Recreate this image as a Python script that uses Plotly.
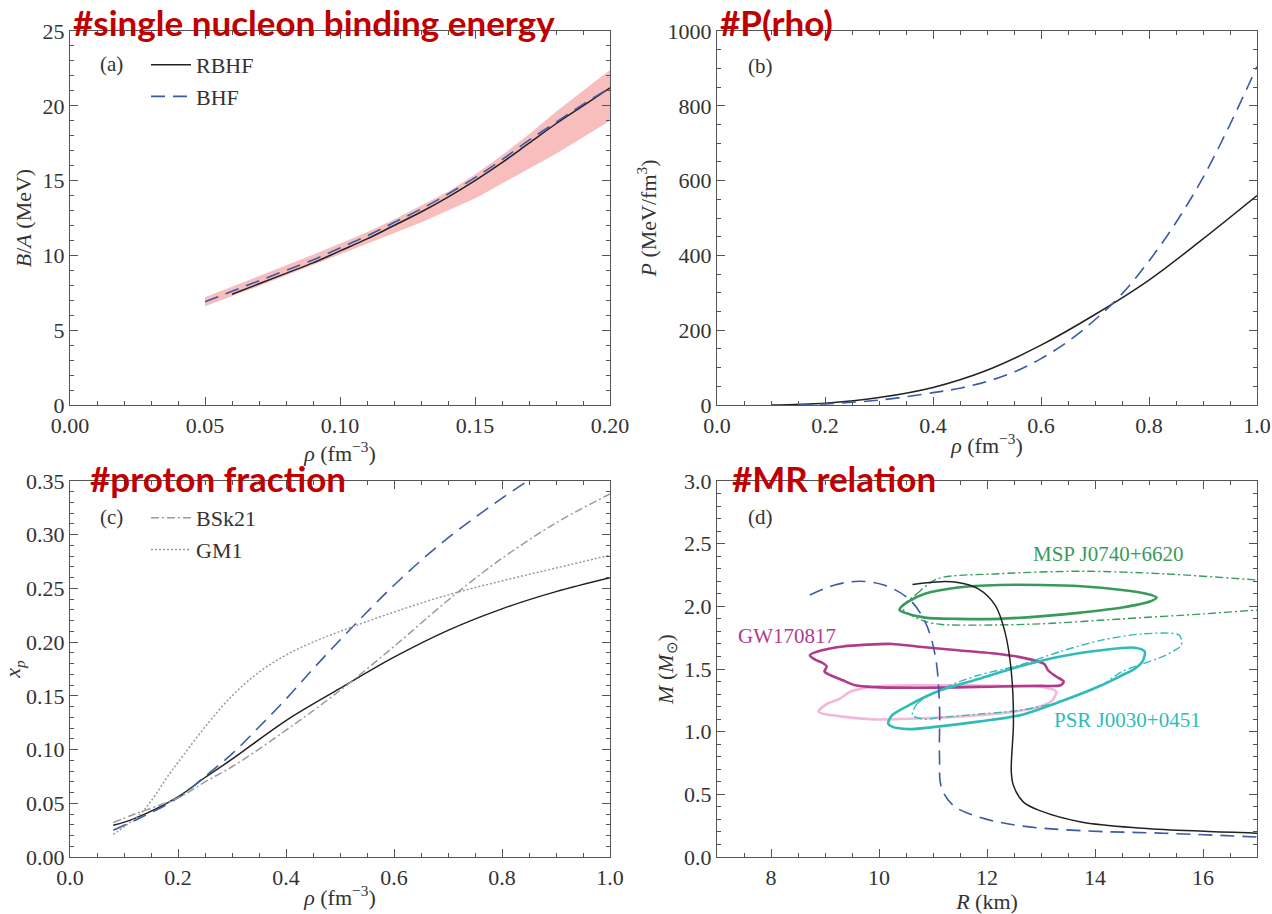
import plotly.graph_objects as go

# ---------------- data ----------------
# (a) binding energy per nucleon
rho_a_rbhf = [0.06, 0.07, 0.08, 0.09, 0.10, 0.11, 0.12, 0.13, 0.14, 0.15, 0.16, 0.17, 0.18, 0.19, 0.20]
ba_rbhf = [7.4, 8.1, 8.8, 9.5, 10.3, 11.1, 12.0, 12.9, 13.9, 15.0, 16.2, 17.5, 18.8, 20.0, 21.2]
rho_a_bhf = [0.05, 0.06, 0.07, 0.08, 0.09, 0.10, 0.11, 0.12, 0.13, 0.14, 0.15, 0.16, 0.17, 0.18, 0.19, 0.20]
ba_bhf = [6.9, 7.6, 8.3, 9.0, 9.7, 10.5, 11.3, 12.2, 13.1, 14.1, 15.2, 16.4, 17.7, 18.9, 20.1, 21.2]
rho_band = [0.05, 0.06, 0.07, 0.08, 0.09, 0.10, 0.11, 0.12, 0.13, 0.14, 0.15, 0.16, 0.17, 0.18, 0.19, 0.20]
band_low = [6.6, 7.25, 7.95, 8.65, 9.35, 10.05, 10.75, 11.5, 12.2, 13.0, 13.8, 14.8, 15.8, 16.8, 17.9, 19.0]
band_high = [7.2, 7.9, 8.6, 9.3, 10.05, 10.8, 11.55, 12.4, 13.3, 14.25, 15.4, 16.7, 18.1, 19.6, 21.0, 22.4]

# (b) pressure
rho_b = [0.10, 0.20, 0.30, 0.40, 0.50, 0.60, 0.70, 0.80, 0.90, 1.00]
p_rbhf = [0, 5, 20, 47, 93, 160, 242, 334, 444, 560]
rho_b_bhf = [0.15, 0.20, 0.30, 0.40, 0.45, 0.50, 0.55, 0.60, 0.65, 0.70, 0.75, 0.80, 0.85, 0.90, 0.95, 1.00]
p_bhf = [0, 3, 13, 33, 45, 63, 88, 124, 170, 228, 297, 385, 488, 608, 750, 905]

# (c) proton fraction
rho_c = [0.08, 0.12, 0.20, 0.25, 0.30, 0.40, 0.50, 0.60, 0.70, 0.80, 0.90, 1.00]
xp_rbhf = [0.0295, 0.036, 0.056, 0.074, 0.091, 0.127, 0.157, 0.186, 0.211, 0.231, 0.247, 0.260]
rho_c_bhf = [0.08, 0.12, 0.20, 0.25, 0.30, 0.35, 0.40, 0.45, 0.50, 0.55, 0.60, 0.65, 0.70, 0.75, 0.80, 0.85]
xp_bhf = [0.025, 0.034, 0.055, 0.075, 0.096, 0.121, 0.147, 0.175, 0.202, 0.228, 0.253, 0.276, 0.297, 0.316, 0.334, 0.351]
rho_c_bsk = [0.08, 0.12, 0.20, 0.25, 0.30, 0.40, 0.50, 0.60, 0.70, 0.80, 0.90, 1.00]
xp_bsk21 = [0.032, 0.040, 0.055, 0.070, 0.084, 0.118, 0.155, 0.196, 0.239, 0.278, 0.311, 0.338]
rho_c_gm1 = [0.08, 0.10, 0.13, 0.15, 0.185, 0.20, 0.25, 0.30, 0.35, 0.40, 0.45, 0.50, 0.60, 0.70, 0.80, 0.90, 1.00]
xp_gm1 = [0.021, 0.028, 0.040, 0.052, 0.078, 0.088, 0.121, 0.150, 0.172, 0.188, 0.200, 0.210, 0.228, 0.244, 0.257, 0.269, 0.281]

# (d) mass-radius
r_rbhf = [10.62, 11.15, 11.46, 11.84, 12.15, 12.33, 12.45, 12.49, 12.45, 12.49, 12.67, 12.98, 13.74, 14.88, 16.02, 17.0]
m_rbhf = [2.175, 2.197, 2.19, 2.14, 2.01, 1.80, 1.48, 1.08, 0.68, 0.57, 0.44, 0.37, 0.28, 0.23, 0.205, 0.19]
r_bhf = [8.72, 9.18, 9.63, 10.09, 10.55, 10.85, 11.04, 11.12, 11.12, 11.16, 11.38, 11.84, 12.6, 13.74, 15.26, 17.0]
m_bhf = [2.09, 2.17, 2.20, 2.17, 2.06, 1.88, 1.61, 1.21, 0.81, 0.55, 0.41, 0.32, 0.25, 0.21, 0.19, 0.16]

msp_in_r = [10.40, 10.55, 10.85, 11.46, 12.22, 12.98, 13.74, 14.50, 14.95, 15.14, 15.03, 14.50, 13.74, 12.98, 12.22, 11.46, 10.85, 10.47, 10.38, 10.40]
msp_in_m = [1.99, 2.04, 2.10, 2.15, 2.17, 2.17, 2.16, 2.13, 2.10, 2.07, 2.04, 1.99, 1.95, 1.92, 1.90, 1.90, 1.91, 1.95, 1.97, 1.99]
msp_out_r = [10.43, 10.70, 11.08, 12.22, 13.74, 15.26, 17.0, 17.6, 17.6, 17.0, 16.02, 14.50, 12.98, 11.84, 11.16, 10.85, 10.55, 10.43]
msp_out_m = [1.99, 2.10, 2.22, 2.26, 2.28, 2.26, 2.21, 2.19, 1.98, 1.97, 1.94, 1.90, 1.86, 1.85, 1.855, 1.88, 1.94, 1.99]

gw_r = [8.72, 8.95, 9.33, 10.24, 10.70, 11.46, 12.22, 12.67, 13.06, 13.13, 13.28, 13.42, 13.36, 12.98, 12.22, 10.70, 9.94, 9.56, 9.33, 9.10, 8.99, 9.03, 8.95, 8.84, 8.72]
gw_m = [1.61, 1.65, 1.68, 1.70, 1.68, 1.65, 1.62, 1.59, 1.54, 1.49, 1.44, 1.40, 1.37, 1.365, 1.36, 1.35, 1.355, 1.37, 1.41, 1.45, 1.48, 1.52, 1.55, 1.57, 1.61]
gw2_r = [8.88, 9.03, 9.26, 9.48, 9.94, 10.70, 11.46, 12.22, 12.98, 13.28, 13.21, 12.90, 12.22, 11.46, 10.70, 9.94, 9.33, 8.99, 8.88]
gw2_m = [1.16, 1.22, 1.26, 1.32, 1.36, 1.37, 1.37, 1.365, 1.36, 1.32, 1.25, 1.19, 1.145, 1.12, 1.105, 1.097, 1.12, 1.14, 1.16]

psr_in_r = [10.17, 10.24, 10.55, 11.08, 11.84, 12.60, 13.36, 14.12, 14.73, 14.92, 14.88, 14.73, 14.50, 14.12, 13.36, 12.60, 11.84, 11.08, 10.55, 10.24, 10.17]
psr_in_m = [1.065, 1.13, 1.21, 1.32, 1.42, 1.52, 1.60, 1.65, 1.67, 1.64, 1.56, 1.50, 1.45, 1.37, 1.24, 1.13, 1.08, 1.04, 1.02, 1.04, 1.065]
psr_out_r = [10.62, 10.70, 11.16, 11.84, 12.60, 13.36, 14.12, 14.88, 15.56, 15.60, 15.48, 15.26, 14.88, 14.50, 14.12, 13.36, 12.60, 11.84, 11.08, 10.85, 10.62]
psr_out_m = [1.13, 1.22, 1.34, 1.45, 1.53, 1.64, 1.73, 1.78, 1.77, 1.69, 1.65, 1.60, 1.54, 1.48, 1.37, 1.24, 1.17, 1.14, 1.11, 1.10, 1.13]

# ---------------- styles ----------------
SERIF = "Liberation Serif"
BLACK = "#222222"
BLUE = "#3d5aa6"
GRAY = "#9a9a9a"
GREEN = "#3a9a5c"
CYAN = "#2fbcb8"
MAG = "#b23a8c"
PINK = "#f2b8d9"
RED = "#c00000"
DASH = "14px,8px"
DASHDOT = "8px,3px,2px,3px"

W, H = 1272, 914


def px_x(a, b):
    return [a / W, b / W]


def px_y(top, bottom):
    return [1 - bottom / H, 1 - top / H]


fig = go.Figure()

# (a)
fig.add_trace(go.Scatter(x=rho_band, y=band_low, mode="lines", line=dict(width=0), showlegend=False,
                         hoverinfo="skip", xaxis="x", yaxis="y"))
fig.add_trace(go.Scatter(x=rho_band, y=band_high, mode="lines", line=dict(width=0), fill="tonexty",
                         fillcolor="rgba(244,150,150,0.62)", showlegend=False, hoverinfo="skip",
                         xaxis="x", yaxis="y"))
fig.add_trace(go.Scatter(x=rho_a_rbhf, y=ba_rbhf, mode="lines", name="RBHF", line=dict(color=BLACK, width=1.5),
                         line_shape="spline", xaxis="x", yaxis="y", legend="legend"))
fig.add_trace(go.Scatter(x=rho_a_bhf, y=ba_bhf, mode="lines", name="BHF", line=dict(color=BLUE, width=1.6, dash=DASH),
                         line_shape="spline", xaxis="x", yaxis="y", legend="legend"))

# (b)
fig.add_trace(go.Scatter(x=rho_b, y=p_rbhf, mode="lines", line=dict(color=BLACK, width=1.5), line_shape="spline",
                         showlegend=False, xaxis="x2", yaxis="y2"))
fig.add_trace(go.Scatter(x=rho_b_bhf, y=p_bhf, mode="lines", line=dict(color=BLUE, width=1.6, dash=DASH),
                         line_shape="spline", showlegend=False, xaxis="x2", yaxis="y2"))

# (c)
fig.add_trace(go.Scatter(x=rho_c, y=xp_rbhf, mode="lines", line=dict(color=BLACK, width=1.5), line_shape="spline",
                         showlegend=False, xaxis="x3", yaxis="y3"))
fig.add_trace(go.Scatter(x=rho_c_bhf, y=xp_bhf, mode="lines", line=dict(color=BLUE, width=1.6, dash=DASH),
                         line_shape="spline", showlegend=False, xaxis="x3", yaxis="y3"))
fig.add_trace(go.Scatter(x=rho_c_bsk, y=xp_bsk21, mode="lines", name="BSk21", line=dict(color=GRAY, width=1.5, dash=DASHDOT),
                         line_shape="spline", xaxis="x3", yaxis="y3", legend="legend2"))
fig.add_trace(go.Scatter(x=rho_c_gm1, y=xp_gm1, mode="lines", name="GM1", line=dict(color=GRAY, width=1.5, dash="2px,2px"),
                         line_shape="spline", xaxis="x3", yaxis="y3", legend="legend2"))

# (d) contours
for rr, mm, col, dsh, wd in [
    (msp_out_r, msp_out_m, GREEN, DASHDOT, 1.4),
    (msp_in_r, msp_in_m, GREEN, None, 2.6),
    (gw2_r, gw2_m, PINK, None, 2.6),
    (gw_r, gw_m, MAG, None, 2.6),
    (psr_out_r, psr_out_m, CYAN, DASHDOT, 1.4),
    (psr_in_r, psr_in_m, CYAN, None, 2.6),
]:
    ln = dict(color=col, width=wd)
    if dsh:
        ln["dash"] = dsh
    fig.add_trace(go.Scatter(x=rr, y=mm, mode="lines", line=ln, line_shape="spline",
                             line_smoothing=0.8, showlegend=False, xaxis="x4", yaxis="y4"))
fig.add_trace(go.Scatter(x=r_rbhf, y=m_rbhf, mode="lines", line=dict(color=BLACK, width=1.5), line_shape="spline",
                         showlegend=False, xaxis="x4", yaxis="y4"))
fig.add_trace(go.Scatter(x=r_bhf, y=m_bhf, mode="lines", line=dict(color=BLUE, width=1.6, dash=DASH),
                         line_shape="spline", showlegend=False, xaxis="x4", yaxis="y4"))

# ---------------- axes ----------------
def axis(domain, rng, dtick, minor, title, anchor, fmt=None, standoff=None):
    d = dict(domain=domain, range=rng, dtick=dtick, tick0=rng[0], anchor=anchor, automargin=False,
             showgrid=False, zeroline=False, showline=True, linecolor="#555555", linewidth=1.3,
             mirror="allticks", ticks="inside", ticklen=8, tickwidth=1.2, tickcolor="#555555",
             tickfont=dict(family=SERIF, size=22, color="#333333"),
             minor=dict(dtick=minor, ticks="inside", ticklen=4, tickwidth=1, tickcolor="#555555", showgrid=False),
             title=dict(text=title, font=dict(family=SERIF, size=22, color="#333333")))
    if fmt:
        d["tickformat"] = fmt
    if standoff is not None:
        d["title"]["standoff"] = standoff
    return d


RHO = "<i>ρ</i> (fm<sup>−3</sup>)"
xa = px_x(70, 610)
xb = px_x(717, 1257)
ytop = px_y(31, 405)
ybot = px_y(481, 857)

fig.update_layout(
    xaxis=axis(xa, [0, 0.2], 0.05, 0.01, RHO, "y", ".2f", 1),
    yaxis=axis(ytop, [0, 25], 5, 1, "<i>B</i>/<i>A</i> (MeV)", "x", None, 4),
    xaxis2=axis(xb, [0, 1], 0.2, 0.05, RHO, "y2", ".1f", 1),
    yaxis2=axis(ytop, [0, 1000], 200, 50, "<i>P</i> (MeV/fm<sup>3</sup>)", "x2", None, 4),
    xaxis3=axis(xa, [0, 1], 0.2, 0.05, RHO, "y3", ".1f", 1),
    yaxis3=axis(ybot, [0, 0.35], 0.05, 0.01, "<i>x<sub>p</sub></i>", "x3", ".2f", 4),
    xaxis4=axis(xb, [7, 17], 2, 0.5, "<i>R</i> (km)", "y4", None, 1),
    yaxis4=axis(ybot, [0, 3], 0.5, 0.1, "<i>M</i> (<i>M</i><sub>⊙</sub>)", "x4", ".1f", 4),
)
fig.layout.xaxis4.tick0 = 8

legend_style = dict(font=dict(family=SERIF, size=22, color="#333333"), bgcolor="rgba(0,0,0,0)",
                    xanchor="left", yanchor="top", itemwidth=40, tracegroupgap=0, traceorder="normal")
fig.update_layout(
    legend=dict(x=146 / W, y=1 - 44 / H, **legend_style),
    legend2=dict(x=146 / W, y=1 - 497 / H, **legend_style),
)

# ---------------- annotations ----------------
ann = []
for txt, x, y in [("(a)", 112, 64), ("(b)", 760, 66), ("(c)", 112, 517), ("(d)", 760, 517)]:
    ann.append(dict(text=txt, xref="paper", yref="paper", x=x / W, y=1 - y / H, xanchor="center", yanchor="middle",
                    showarrow=False, font=dict(family=SERIF, size=21, color="#333333")))
for txt, x, y, col in [("MSP J0740+6620", 14.25, 2.42, GREEN), ("GW170817", 8.3, 1.76, MAG),
                       ("PSR J0030+0451", 14.6, 1.09, CYAN)]:
    ann.append(dict(text=txt, xref="x4", yref="y4", x=x, y=y, xanchor="center", yanchor="middle",
                    showarrow=False, font=dict(family=SERIF, size=21, color=col)))
for txt, x, y in [("#single nucleon binding energy", 71, 22), ("#P(rho)", 718, 22),
                  ("#proton fraction", 88, 478), ("#MR relation", 730, 478)]:
    ann.append(dict(text="<b>" + txt + "</b>", xref="paper", yref="paper", x=x / W, y=1 - y / H,
                    xanchor="left", yanchor="middle", showarrow=False,
                    font=dict(family="Lato", size=35, color=RED)))
fig.update_layout(annotations=ann)

fig.update_layout(width=W, height=H, margin=dict(l=0, r=0, t=0, b=0), paper_bgcolor="white",
                  plot_bgcolor="white", showlegend=True,
                  font=dict(family=SERIF, size=22, color="#333333"))

fig.write_html("out.html", config={"displayModeBar": False},
               post_script="document.body.style.margin='0';document.body.style.overflow='hidden';")
